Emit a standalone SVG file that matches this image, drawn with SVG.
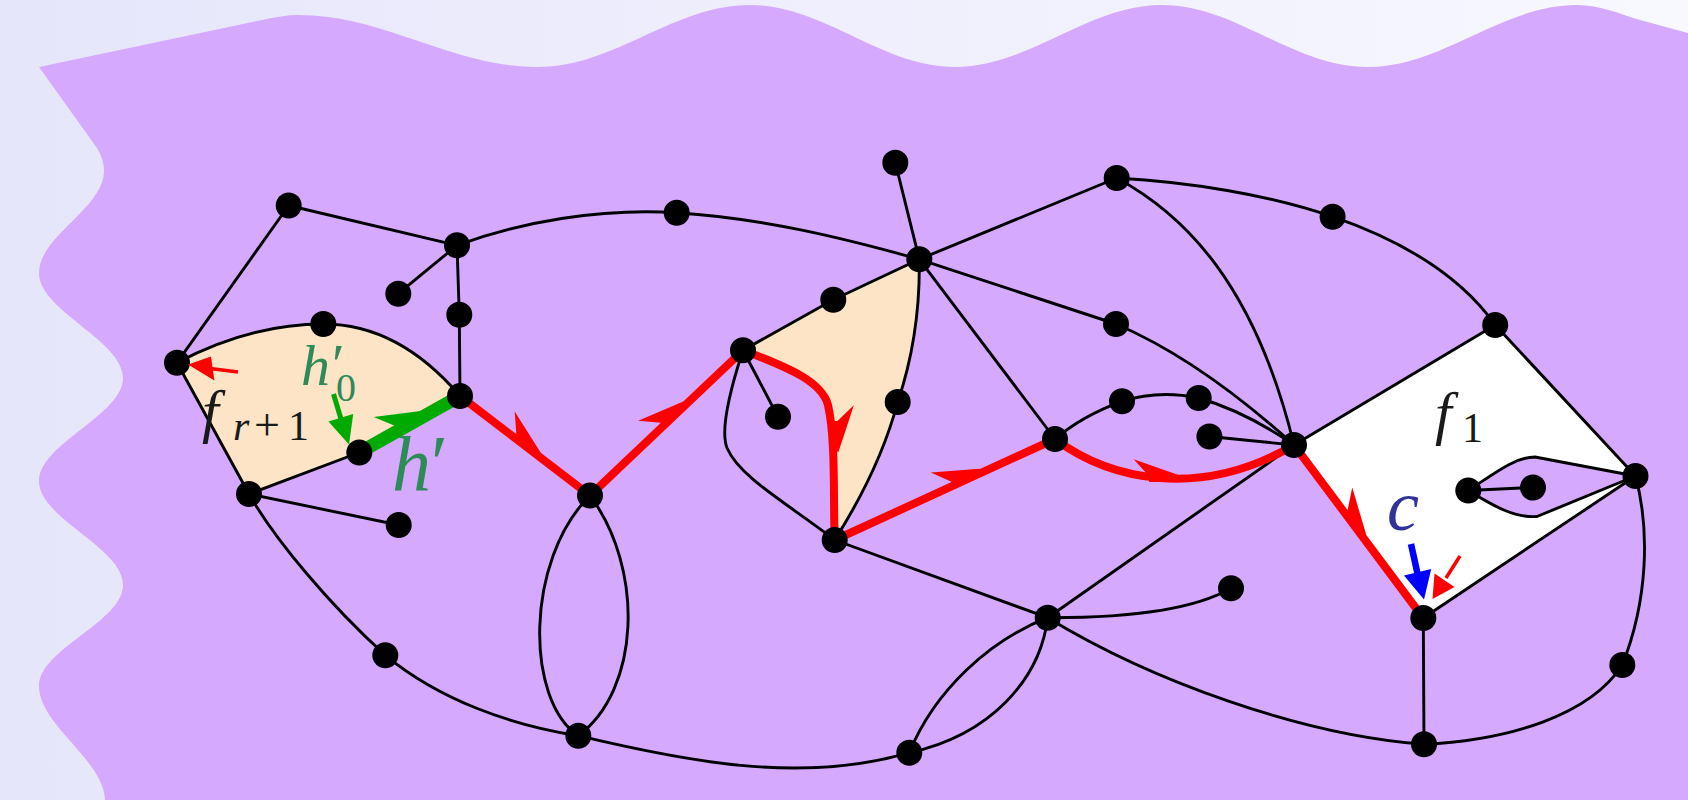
<svg xmlns="http://www.w3.org/2000/svg" width="1688" height="800" viewBox="0 0 1688 800">
<defs>
<linearGradient id="bg" x1="0" y1="0" x2="1" y2="0">
<stop offset="0" stop-color="#E6E6FB"/>
<stop offset="1" stop-color="#F8F8FF"/>
</linearGradient>
<path id="harp" d="M0,-4 L-46,-21 L-31,-4 L-31,2 L0,2 Z"/>
<path id="harpG" d="M0,-6 L-44,-24 L-30,-6 L-30,2 L0,2 Z"/>
</defs>
<style>
.e{fill:none;stroke:#000;stroke-width:2.9;stroke-linecap:round;stroke-linejoin:round}
.red{fill:none;stroke:#FF0000;stroke-width:8;stroke-linejoin:round;stroke-linecap:round}
.node circle{fill:#000}
.face{fill:#FDE4C7;stroke:none}
.m{font-family:"Liberation Serif","DejaVu Serif",serif}
.it{font-style:italic}
</style>
<g id="background">
<rect x="0" y="0" width="1688" height="800" fill="url(#bg)"/>
<path fill="#D5A9FE" d="M39,67 L262,20 C 275,17 287,15 298,15 C 385,15 451,67 538,67 C 615,67 673,5 750,5 C 824,5 881,67 955,67 C 1030,67 1087,5 1162,5 C 1236,5 1293,67 1367,67 C 1443,67 1501,5 1577,5 C 1600,5 1620,14 1640,20 L1688,33 L1688,800 L105,800 C 104,760 39,725 39,686 C 39,649 123,622 123,585 C 123,547 39,519 39,481 C 39,444 123,415 123,378 C 123,340 39,311 39,273 C 39,236 104,208 104,171 C 104,162 101,155 97,148 Z"/>
</g>
<g id="faces">
<path class="face" d="M177,362.7 C 220,340 270,324 323.3,324 C 380,324 425,355 460,396 L359.3,452.5 L249,494 Z"/>
<path class="face" d="M743,350.3 L833.3,299.7 L919.3,259.3 C 920,310 912,360 897.7,402 C 885,450 860,500 834.7,540 C 833,500 836,440 828,405 C 822,382 790,368 743,350.3 Z"/>
<path fill="#FFFFFF" d="M1294,445 L1495.2,325 L1635.5,476 L1423.3,618 Z"/>
<path fill="#D5A9FE" d="M1468.3,490.5 C 1495,473 1515,457 1535,457 L1635.5,476 L1537,516.5 C 1515,518 1495,507 1468.3,490.5 Z"/>
</g>
<g id="connectors">
<path class="e" d="M177,362.7 L288.7,205.5 L457,245.3 L398.3,293.7"/>
<path class="e" d="M457,245.3 L459.3,314.7 L460,396"/>
<path class="e" d="M457,245.3 C 520,222 600,208 676.7,212.7 C 760,218 840,237 919.3,259.3"/>
<path class="e" d="M177,362.7 C 220,340 270,324 323.3,324 C 380,324 425,355 460,396"/>
<path class="e" d="M177,362.7 L249,494 L359.3,452.5"/>
<path class="e" d="M249,494 L398.7,525"/>
<path class="e" d="M249,494 C 275,540 330,605 385.3,655.3 C 440,700 510,725 578.3,735.7"/>
<path class="e" d="M578.3,735.7 C 680,760 800,785 909.3,752.7"/>
<path class="e" d="M590,495.5 C 525,560 525,700 578.3,735.7"/>
<path class="e" d="M590,495.5 C 645,570 640,690 578.3,735.7"/>
<path class="e" d="M743,350.3 L833.3,299.7 L919.3,259.3 L895.3,162.7"/>
<path class="e" d="M743,350.3 L778,416.7"/>
<path class="e" d="M743,350.3 C 730,390 720,430 727,448 C 740,478 790,505 834.7,540"/>
<path class="e" d="M919.3,259.3 C 920,310 912,360 897.7,402 C 885,450 860,500 834.7,540"/>
<path class="e" d="M919.3,259.3 L1116.7,178"/>
<path class="e" d="M919.3,259.3 L1055,439"/>
<path class="e" d="M919.3,259.3 L1116,324 Q 1200,360 1294,445"/>
<path class="e" d="M1116.7,178 C 1190,182 1270,195 1332.6,216.7 C 1400,240 1460,275 1495.2,325"/>
<path class="e" d="M1116.7,178 C 1185,215 1255,285 1294,445"/>
<path class="e" d="M1055,439 C 1075,422 1098,410 1122,401.3 C 1148,393 1175,393 1198.7,398 C 1230,407 1265,425 1294,445"/>
<path class="e" d="M1209.4,436.5 L1294,445"/>
<path class="e" d="M1294,445 L1495.2,325 L1635.5,476 L1423.3,618"/>
<path class="e" d="M1423.3,618 L1424,744.3"/>
<path class="e" d="M1635.5,476 C 1650,530 1648,600 1622.3,665 C 1590,715 1510,740 1424,744.3"/>
<path class="e" d="M1047.7,617.7 C 1150,680 1300,735 1424,744.3"/>
<path class="e" d="M1047.7,617.7 C 1120,618 1190,612 1231,588.3"/>
<path class="e" d="M1047.7,617.7 L1294,445"/>
<path class="e" d="M834.7,540 L1047.7,617.7"/>
<path class="e" d="M1047.7,617.7 C 990,640 935,690 909.3,752.7"/>
<path class="e" d="M1047.7,617.7 C 1040,680 990,735 909.3,752.7"/>
<path class="e" d="M1468.3,490.5 L1533,487.5"/>
<path class="e" d="M1468.3,490.5 C 1495,473 1515,457 1535,457 L1635.5,476"/>
<path class="e" d="M1468.3,490.5 C 1495,507 1515,518 1537,516.5 L1635.5,476"/>
<path class="red" d="M460,396 L590,495.5 L743,350.3 C 790,368 822,382 828,405 C 836,440 833,500 834.7,540 L1055,439 C 1110,480 1200,500 1294,445 L1423.3,618"/>
<path d="M460,396 L359.3,452.5" fill="none" stroke="#00AA00" stroke-width="13"/>
<g fill="#FF0000">
<use href="#harp" transform="translate(538.5,456.1) rotate(37.4)"/>
<use href="#harp" transform="translate(686,404.4) rotate(-43.5)"/>
<use href="#harp" transform="translate(834.5,452) rotate(88)"/>
<use href="#harp" transform="translate(981.3,472.5) rotate(-24.6)"/>
<use href="#harp" transform="translate(1180,479.5) rotate(-1)"/>
<use href="#harp" transform="translate(1363,537) rotate(53.2)"/>
</g>
<use href="#harpG" fill="#00AA00" transform="translate(423.8,416.3) rotate(-29.3)"/>
</g>
<g id="n1" class="node"><circle cx="288.7" cy="205.5" r="13"/></g>
<g id="n2" class="node"><circle cx="457" cy="245.3" r="13"/></g>
<g id="n3" class="node"><circle cx="676.7" cy="212.7" r="13"/></g>
<g id="n4" class="node"><circle cx="895.3" cy="162.7" r="13"/></g>
<g id="n5" class="node"><circle cx="919.3" cy="259.3" r="13"/></g>
<g id="n6" class="node"><circle cx="1116.7" cy="178" r="13"/></g>
<g id="n7" class="node"><circle cx="1332.6" cy="216.7" r="13"/></g>
<g id="n8" class="node"><circle cx="398.3" cy="293.7" r="13"/></g>
<g id="n9" class="node"><circle cx="459.3" cy="314.7" r="13"/></g>
<g id="n10" class="node"><circle cx="323.3" cy="324" r="13"/></g>
<g id="n11" class="node"><circle cx="177" cy="362.7" r="13"/></g>
<g id="n12" class="node"><circle cx="460" cy="396" r="13"/></g>
<g id="n13" class="node"><circle cx="833.3" cy="299.7" r="13"/></g>
<g id="n14" class="node"><circle cx="743" cy="350.3" r="13"/></g>
<g id="n15" class="node"><circle cx="1116" cy="324" r="13"/></g>
<g id="n16" class="node"><circle cx="1495.2" cy="325" r="13"/></g>
<g id="n17" class="node"><circle cx="359.3" cy="452.5" r="13"/></g>
<g id="n18" class="node"><circle cx="249" cy="494" r="13"/></g>
<g id="n19" class="node"><circle cx="398.7" cy="525" r="13"/></g>
<g id="n20" class="node"><circle cx="590" cy="495.5" r="13"/></g>
<g id="n21" class="node"><circle cx="778" cy="416.7" r="13"/></g>
<g id="n22" class="node"><circle cx="897.7" cy="402" r="13"/></g>
<g id="n23" class="node"><circle cx="1122" cy="401.3" r="13"/></g>
<g id="n24" class="node"><circle cx="1198.7" cy="398" r="13"/></g>
<g id="n25" class="node"><circle cx="1209.4" cy="436.5" r="13"/></g>
<g id="n26" class="node"><circle cx="1055" cy="439" r="13"/></g>
<g id="n27" class="node"><circle cx="1294" cy="445" r="13"/></g>
<g id="n28" class="node"><circle cx="834.7" cy="540" r="13"/></g>
<g id="n29" class="node"><circle cx="1468.3" cy="490.5" r="13"/></g>
<g id="n30" class="node"><circle cx="1533" cy="487.5" r="13"/></g>
<g id="n31" class="node"><circle cx="1635.5" cy="476" r="13"/></g>
<g id="n32" class="node"><circle cx="1423.3" cy="618" r="13"/></g>
<g id="n33" class="node"><circle cx="1231" cy="588.3" r="13"/></g>
<g id="n34" class="node"><circle cx="1047.7" cy="617.7" r="13"/></g>
<g id="n35" class="node"><circle cx="1622.3" cy="665" r="13"/></g>
<g id="n36" class="node"><circle cx="385.3" cy="655.3" r="13"/></g>
<g id="n37" class="node"><circle cx="578.3" cy="735.7" r="13"/></g>
<g id="n38" class="node"><circle cx="909.3" cy="752.7" r="13"/></g>
<g id="n39" class="node"><circle cx="1424" cy="744.3" r="13"/></g>
<g id="pointers">
<line x1="238" y1="372" x2="210" y2="368.5" stroke="#FF0000" stroke-width="3.5"/>
<polygon points="188,364.5 211,356.6 214.4,380.4" fill="#FF0000"/>
<line x1="1460" y1="556" x2="1446" y2="578" stroke="#FF0000" stroke-width="3.5"/>
<polygon points="1432.5,599 1454.5,587 1434.5,573.5" fill="#FF0000"/>
<line x1="1411" y1="544" x2="1417.6" y2="574" stroke="#0000FF" stroke-width="6.5"/>
<polygon points="1424,599.5 1431.2,569 1404,575.4" fill="#0000FF"/>
<line x1="333.5" y1="394" x2="341" y2="419" stroke="#00AA00" stroke-width="5"/>
<polygon points="349,444.5 353.2,413.9 328.4,421.5" fill="#00AA00"/>
</g>
<g id="labels" class="m">
<text fill="#1a1a1a"><tspan x="202" y="431" font-size="60" class="it">f</tspan><tspan x="233" y="440" font-size="42" class="it">r</tspan><tspan x="254" y="440" font-size="46">+</tspan><tspan x="288" y="440" font-size="42">1</tspan></text>
<text fill="#1a1a1a"><tspan x="1435" y="433" font-size="60" class="it">f</tspan><tspan x="1462" y="442" font-size="42">1</tspan></text>
<text fill="#2E8B57"><tspan x="301" y="385" font-size="58" class="it">h</tspan><tspan x="332" y="384" font-size="58">′</tspan><tspan x="336" y="401" font-size="40">0</tspan></text>
<text fill="#2E8B57"><tspan x="392" y="491" font-size="78" class="it">h</tspan><tspan x="431" y="489" font-size="78">′</tspan></text>
<text x="1387" y="530" font-size="72" class="it" fill="#303399">c</text>
</g>
</svg>
